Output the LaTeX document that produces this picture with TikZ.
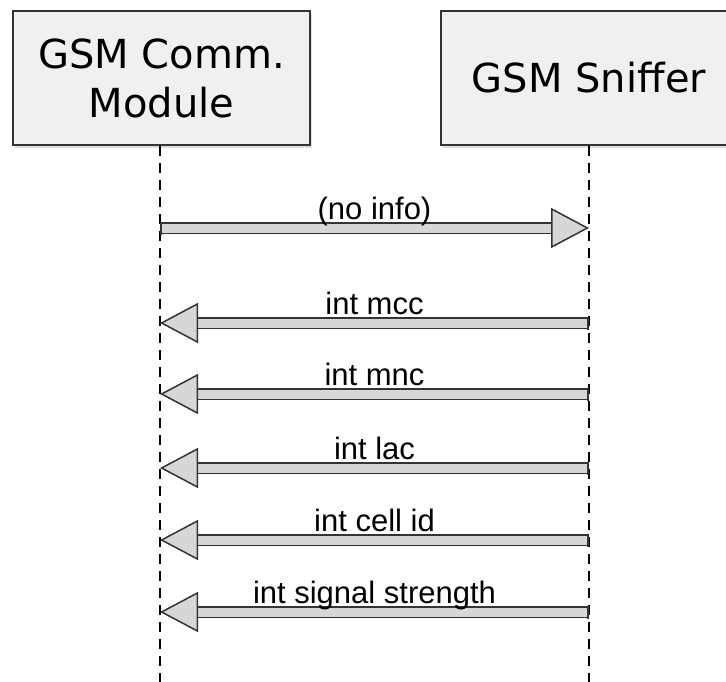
\documentclass[tikz,border=0pt]{standalone}
\usepackage{fontspec}
\newfontfamily\headfont{DejaVu Sans}
\newfontfamily\msgfont{Liberation Sans}
\usetikzlibrary{arrows.meta,shadows}

\definecolor{boxline}{RGB}{51,51,51}
\definecolor{boxfill}{RGB}{240,240,240}
\definecolor{arrowfill}{RGB}{215,215,215}

\tikzset{
  actor/.style={draw=boxline, line width=2pt, fill=boxfill, align=center,
    minimum width=297pt, minimum height=134pt, inner sep=0pt,
    font=\headfont\fontsize{40}{49}\selectfont,
    drop shadow={shadow xshift=2pt, shadow yshift=-3pt, opacity=0.25}},
  lifeline/.style={draw=black, line width=1.4pt, dash pattern=on 10pt off 7pt},
  message/.style={draw=boxline, line width=1.8pt, double=arrowfill, double distance=9pt,
    {Bar[width=13pt, line width=1.8pt]}-{Triangle[length=38pt, width=40pt, fill=arrowfill, line width=1.5pt]}},
  msglabel/.style={anchor=base, yshift=9pt, inner sep=0pt,
    font=\msgfont\fontsize{31}{36}\selectfont}
}

\begin{document}
\begin{tikzpicture}[x=1pt,y=1pt,yscale=-1,xscale=1]
            \useasboundingbox (0,0) rectangle (726,682);
            \clip (0,0) rectangle (726,682);

            %Shape: Rectangle [id:gsmComm]
            \node [actor] (comm) at (161.5,78) {GSM Comm.\\Module};
            %Shape: Rectangle [id:gsmSniffer]
            \node [actor, minimum width=296pt] (sniffer) at (589,78) {GSM Sniffer};

            %Lifelines
            \coordinate (commEnd) at (160,682);
            \coordinate (snifferEnd) at (589,682);
            \draw [lifeline] (comm.south -| commEnd) -- (commEnd);
            \draw [lifeline] (sniffer.south -| snifferEnd) -- (snifferEnd);

            %Message points on the lifelines
            \coordinate (c1) at (160,228);   \coordinate (s1) at (589,228);
            \coordinate (c2) at (160,323);   \coordinate (s2) at (589,323);
            \coordinate (c3) at (160,394);   \coordinate (s3) at (589,394);
            \coordinate (c4) at (160,468);   \coordinate (s4) at (589,468);
            \coordinate (c5) at (160,540);   \coordinate (s5) at (589,540);
            \coordinate (c6) at (160,612);   \coordinate (s6) at (589,612);

            %Shape: Arrow [request]
            \draw [message] (c1) -- (s1) node [msglabel, midway] {(no info)};
            %Shape: Arrow [replies]
            \draw [message] (s2) -- (c2) node [msglabel, midway] {int mcc};
            \draw [message] (s3) -- (c3) node [msglabel, midway] {int mnc};
            \draw [message] (s4) -- (c4) node [msglabel, midway] {int lac};
            \draw [message] (s5) -- (c5) node [msglabel, midway] {int cell id};
            \draw [message] (s6) -- (c6) node [msglabel, midway] {int signal strength};

        \end{tikzpicture}
\end{document}
